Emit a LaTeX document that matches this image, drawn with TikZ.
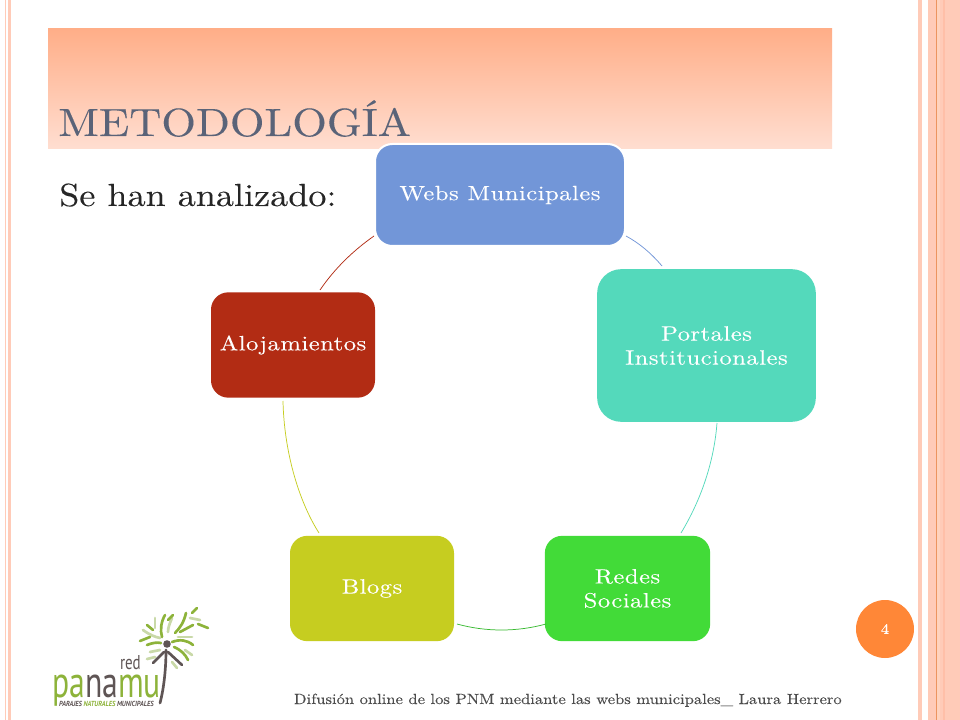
\documentclass[tikz,border=0pt]{standalone}
\usepackage{fontspec}
\setmainfont{lmroman10-regular.otf}[FakeStretch=1.13,FakeBold=0.12]
\newfontfamily\wide{lmroman10-regular.otf}[FakeStretch=1.2,FakeBold=0.1,LetterSpace=2]
\setsansfont{PT Sans}
\definecolor{stripe}{HTML}{FFCBB8}
\definecolor{stripeb}{HTML}{FFBFA8}
\definecolor{stripec}{HTML}{EC9560}
\definecolor{stripel}{HTML}{FFD3BE}
\definecolor{titlec}{HTML}{5A6378}
\definecolor{lgreen}{HTML}{8DB33A}
\definecolor{lpale}{HTML}{C9D9A8}
\definecolor{lgrey}{HTML}{5F5555}
\definecolor{cblue}{RGB}{114,150,216}
\definecolor{cteal}{RGB}{84,217,187}
\definecolor{cgreen}{RGB}{66,219,56}
\definecolor{colive}{RGB}{198,205,32}
\definecolor{cred}{RGB}{178,44,20}
\definecolor{cnum}{RGB}{255,135,55}
\tikzset{
 x=0.75pt,y=-0.75pt,
 card/.style={rounded corners=13pt,text=white,align=center,font=\wide\fontsize{15.5}{18}\selectfont,inner sep=0pt},
 link/.style={line width=0.55pt},
 frond/.style={lgreen,line width=2pt,line cap=round},
 pale/.style={lpale,line width=2pt,line cap=round},
 trunk/.style={lgrey,line width=2pt,line cap=round},
}
\begin{document}
\begin{tikzpicture}
\useasboundingbox (0,0) rectangle (960,720);
\fill[white] (0,0) rectangle (960,720);
% side stripes
\fill[stripe] (5,0) rectangle (6,720);
\fill[stripe] (8,0) rectangle (11,720);
\fill[stripe] (918,0) rectangle (922,720);
\fill[stripe] (928,0) rectangle (960,720);
\fill[stripec] (936,0) rectangle (937,720);
\fill[stripel] (937,0) rectangle (940,720);
\fill[stripeb] (943,0) rectangle (945,720);
% title band
\shade[top color={rgb,255:red,255;green,174;blue,136},bottom color={rgb,255:red,255;green,222;blue,209}] (48,29) rectangle (832,149);
\node[anchor=base west,inner sep=0pt,text=titlec,font=\fontsize{29.5}{32}\selectfont] (title) at (58,136) {METODOLOGÍA};
\node[anchor=base west,inner sep=0pt,font=\fontsize{24}{26}\selectfont,text=black!85] (sub) at (59,206) {Se han analizado:};
% nodes
\node[card,draw=white,line width=1.5pt,fill=cblue,minimum width=187.5pt,minimum height=76.5pt] (webs) at (500,195) {Webs Municipales};
\node[card,fill=cteal,minimum width=164pt,minimum height=114.5pt,rounded corners=18pt] (port) at (706.5,345.5) {Portales\\Institucionales};
\node[card,fill=cgreen,minimum width=124pt,minimum height=79pt] (redes) at (627.5,588.5) {Redes\\Sociales};
\node[card,fill=colive,minimum width=123pt,minimum height=79pt] (blogs) at (372,588.5) {Blogs};
\node[card,fill=cred,minimum width=123pt,minimum height=79pt] (aloj) at (293,345) {Alojamientos};
% cycle arcs
\coordinate (a1) at (626,236); \coordinate (a2) at (662,266);
\coordinate (b1) at (717,423); \coordinate (b2) at (681,533);
\coordinate (c1) at (546,624); \coordinate (c2) at (457,624);
\coordinate (d1) at (319,533); \coordinate (d2) at (283,401);
\coordinate (e1) at (320,290); \coordinate (e2) at (374,236);
\draw[link,cblue] (a1) .. controls (639,243) and (651,253) .. (a2);
\draw[link,cteal] (b1) .. controls (714,462) and (701,500) .. (b2);
\draw[link,cgreen!85!black] (c1) .. controls (517,632) and (486,632) .. (c2);
\draw[link,colive] (d1) .. controls (298,500) and (284,450) .. (d2);
\draw[link,cred] (e1) .. controls (335,268) and (354,250) .. (e2);
% page number
\node[circle,fill=cnum,minimum size=43.5pt,inner sep=0pt,text=white,font=\bfseries\fontsize{11}{12}\selectfont] (num) at (885,629) {4};
% footer
\node[anchor=base east,inner sep=0pt,font=\fontsize{11}{12}\selectfont,text=black!70] (foot) at (842,704) {Difusión online de los PNM mediante las webs municipales\_ Laura Herrero};
% logo
\coordinate (h) at (167,644);
\draw[pale] (155,618) -- (155,628);
\draw[pale] (143,630) .. controls (150,635) and (155,637) .. (160,638);
\draw[pale] (172,618) .. controls (170,623) and (168,627) .. (168,632);
\draw[pale] (190,618) -- (200,620);
\draw[pale] (178,637) -- (192,637);
\draw[pale] (150,652) -- (160,650);
\draw[pale] (147,659) -- (155,657);
\draw[pale] (185,650) -- (192,655);
\draw[pale] (172,662) -- (177,668);
\draw[frond] (140,641) -- (150,637);
\draw[frond] (147,645) .. controls (152,643) and (157,642) .. (161,643);
\draw[frond] (162,637) .. controls (160,630) and (161,622) .. (165,615);
\draw[frond] (168,620) -- (173,615);
\draw[frond] (175,633) .. controls (180,628) and (184,622) .. (186,613);
\draw[frond] (180,632) -- (193,625);
\draw[frond] (192,613) -- (197,608);
\draw[frond] (198,624) -- (208,628);
\draw[frond] (172,642) .. controls (180,639) and (187,640) .. (193,645);
\draw[frond] (174,647) .. controls (181,650) and (185,654) .. (188,660);
\draw[frond] (147,625) -- (153,630);
\draw[trunk] (166,650) .. controls (166,668) and (164,688) .. (160,703);
\draw[trunk] (164,652) -- (153,663);
\draw[trunk] (168,652) -- (182,665);
\fill[lgrey] (h) circle (3.8);
\node[anchor=base east,inner sep=0pt,text=lgrey,font=\sffamily\fontsize{15}{16}\selectfont,xscale=.75] (red) at (141,669) {red};
\node[anchor=base west,inner sep=0pt,font=\sffamily\fontsize{33}{34}\selectfont,xscale=.72] (pan) at (52,697) {\textcolor{lgreen}{pa}\textcolor{lgrey}{na}\textcolor{lgreen}{mu}};
\node[anchor=base west,inner sep=0pt,font=\sffamily\bfseries\itshape\fontsize{5.5}{6}\selectfont,text=lgrey,xscale=.88] (par) at (59,706) {PARAJES \textcolor{lgreen}{NATURALES} MUNICIPALES};
\end{tikzpicture}
\end{document}
